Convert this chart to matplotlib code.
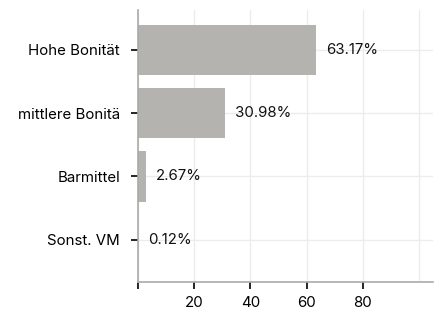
import matplotlib.pyplot as plt

plt.rcParams['font.family'] = ['Inter', 'DejaVu Sans']

categories = ["Hohe Bonität", "mittlere Bonitä", "Barmittel", "Sonst. VM"]
values = [63.17, 30.98, 2.67, 0.12]
labels = ["63.17%", "30.98%", "2.67%", "0.12%"]

fig, ax = plt.subplots(figsize=(4.41, 3.11), dpi=100)
fig.subplots_adjust(left=0.313, right=0.982, top=0.968, bottom=0.093)

y = range(len(categories))
ax.barh(y, values, height=0.8, color="#b4b3af", zorder=2)
for i, (v, lab) in enumerate(zip(values, labels)):
    ax.text(v + 3.6, i, lab, va="center", ha="left", fontsize=10.8, color="#111111")

ax.set_yticks(list(y))
ax.set_yticklabels(categories, fontsize=10.8)
ax.set_ylim(3.67, -0.63)
ax.set_xlim(0, 105)
ax.set_xticks([0, 20, 40, 60, 80])
ax.set_xticklabels(["", "20", "40", "60", "80"], fontsize=10.8)

ax.grid(True, color="#ececec", linewidth=1, zorder=0)
ax.axvline(100, color="#ececec", linewidth=1, zorder=0)
ax.tick_params(axis="both", length=5, width=1.2, color="black")
ax.tick_params(axis="y", pad=8)
ax.tick_params(axis="x", pad=5)
for side in ["top", "right"]:
    ax.spines[side].set_visible(False)
for side in ["left", "bottom"]:
    ax.spines[side].set_color("#aaaaaa")
    ax.spines[side].set_linewidth(1.2)

fig.savefig("out.png", dpi=100)
